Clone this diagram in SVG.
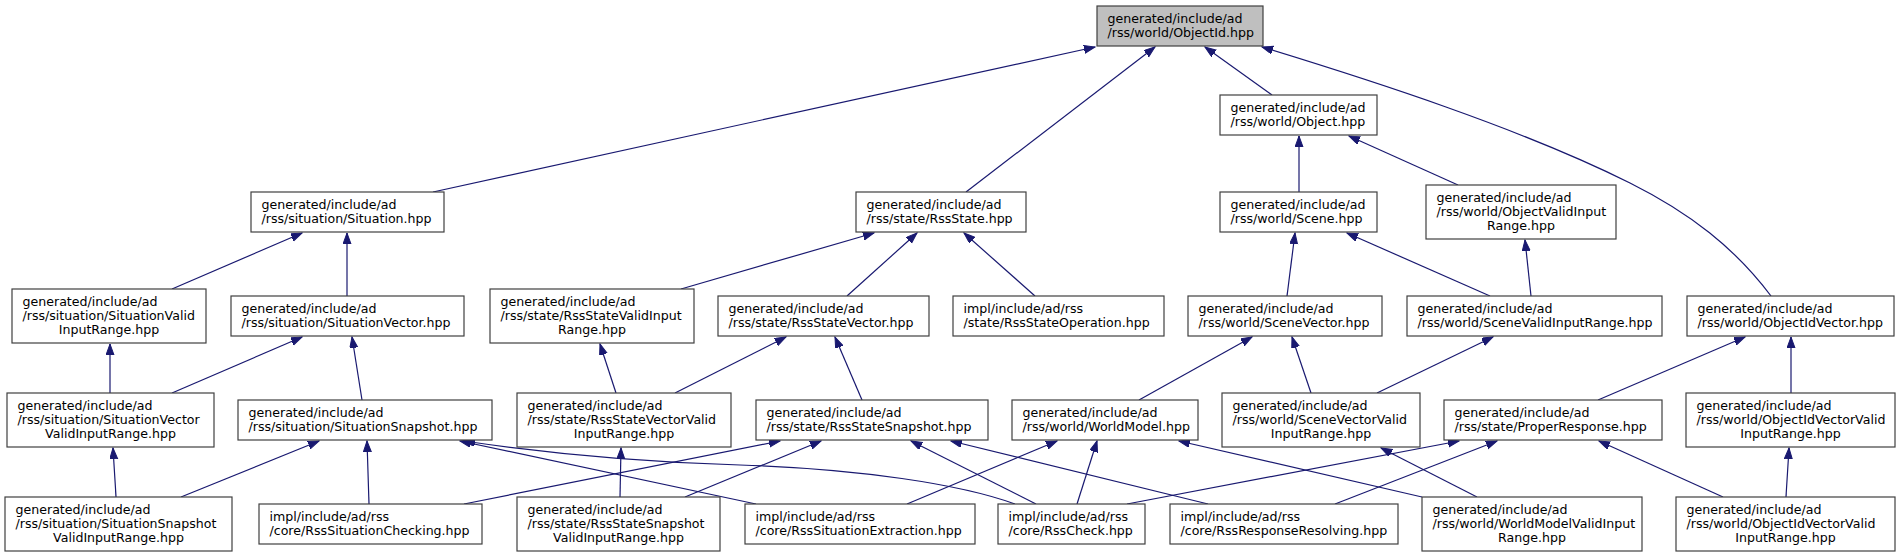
<svg xmlns="http://www.w3.org/2000/svg" width="1901" height="557" viewBox="0 0 1901 557">
<style>
.node rect{fill:#ffffff;stroke:#404040;stroke-width:1.2}
.node.root rect{fill:#bfbfbf}
.node text{font-family:"DejaVu Sans","Liberation Sans",sans-serif;font-size:12.6px;fill:#000000}
.node text.c{text-anchor:middle}
.edges path{fill:none;stroke:#191970;stroke-width:1.2;marker-end:url(#arr)}
</style>
<defs>
<marker id="arr" markerUnits="userSpaceOnUse" markerWidth="12" markerHeight="9" refX="11" refY="4" orient="auto">
<path d="M0,0 L11,4 L0,8 z" fill="#191970" stroke="#191970" stroke-width="1"/>
</marker>
</defs>
<rect x="0" y="0" width="1901" height="557" fill="#ffffff"/>
<g class="edges">
<path d="M433,192 L1095,47"/>
<path d="M966,192 L1155,47"/>
<path d="M1272,95 L1205,47"/>
<path d="M1771,296 C1735,248 1690,213 1630,183 C1520,128 1370,80 1262,47"/>
<path d="M1299,192 L1299,136"/>
<path d="M1458,185 L1349,136"/>
<path d="M172,289 L302,233"/>
<path d="M347,296 L347,233"/>
<path d="M681,289 L874,233"/>
<path d="M847,296 L917,233"/>
<path d="M1035,296 L964,233"/>
<path d="M1287,296 L1295,233"/>
<path d="M1490,296 L1347,233"/>
<path d="M1531,296 L1525,240"/>
<path d="M110,393 L110,344"/>
<path d="M172,393 L302,337"/>
<path d="M362,400 L352,337"/>
<path d="M616,393 L600,344"/>
<path d="M675,393 L786,337"/>
<path d="M862,400 L835,337"/>
<path d="M1139,400 L1252,337"/>
<path d="M1311,393 L1292,337"/>
<path d="M1377,393 L1493,337"/>
<path d="M1598,400 L1745,337"/>
<path d="M1791,393 L1791,337"/>
<path d="M116,497 L113,448"/>
<path d="M181,497 L319,441"/>
<path d="M369,504 L367,441"/>
<path d="M756,504 L460,441"/>
<path d="M1015,504 C960,484 860,469 740,465 C640,462 545,453 464,441"/>
<path d="M620,497 L621,448"/>
<path d="M464,504 L780,441"/>
<path d="M685,497 L821,441"/>
<path d="M1036,504 L911,441"/>
<path d="M1208,504 L951,441"/>
<path d="M907,504 L1057,441"/>
<path d="M1077,504 L1097,441"/>
<path d="M1422,497 L1179,441"/>
<path d="M1127,504 L1459,441"/>
<path d="M1335,504 L1497,441"/>
<path d="M1723,497 L1599,441"/>
<path d="M1477,497 L1381,448"/>
<path d="M1786,497 L1789,448"/>
</g>
<g id="n0" class="node root"><rect x="1097" y="6" width="166" height="40"/><text x="1107.5" y="22.5">generated/include/ad</text><text x="1107.5" y="36.5">/rss/world/ObjectId.hpp</text></g>
<g id="n1" class="node"><rect x="1220" y="95" width="157" height="40"/><text x="1230.5" y="111.5">generated/include/ad</text><text x="1230.5" y="125.5">/rss/world/Object.hpp</text></g>
<g id="n2" class="node"><rect x="251" y="192" width="193" height="40"/><text x="261.5" y="208.5">generated/include/ad</text><text x="261.5" y="222.5">/rss/situation/Situation.hpp</text></g>
<g id="n3" class="node"><rect x="856" y="192" width="170" height="40"/><text x="866.5" y="208.5">generated/include/ad</text><text x="866.5" y="222.5">/rss/state/RssState.hpp</text></g>
<g id="n4" class="node"><rect x="1220" y="192" width="157" height="40"/><text x="1230.5" y="208.5">generated/include/ad</text><text x="1230.5" y="222.5">/rss/world/Scene.hpp</text></g>
<g id="n5" class="node"><rect x="1426" y="185" width="190" height="54"/><text x="1436.5" y="201.5">generated/include/ad</text><text x="1436.5" y="215.5">/rss/world/ObjectValidInput</text><text class="c" x="1521" y="229.5">Range.hpp</text></g>
<g id="n6" class="node"><rect x="12" y="289" width="194" height="54"/><text x="22.5" y="305.5">generated/include/ad</text><text x="22.5" y="319.5">/rss/situation/SituationValid</text><text class="c" x="109" y="333.5">InputRange.hpp</text></g>
<g id="n7" class="node"><rect x="231" y="296" width="233" height="40"/><text x="241.5" y="312.5">generated/include/ad</text><text x="241.5" y="326.5">/rss/situation/SituationVector.hpp</text></g>
<g id="n8" class="node"><rect x="490" y="289" width="204" height="54"/><text x="500.5" y="305.5">generated/include/ad</text><text x="500.5" y="319.5">/rss/state/RssStateValidInput</text><text class="c" x="592" y="333.5">Range.hpp</text></g>
<g id="n9" class="node"><rect x="718" y="296" width="211" height="40"/><text x="728.5" y="312.5">generated/include/ad</text><text x="728.5" y="326.5">/rss/state/RssStateVector.hpp</text></g>
<g id="n10" class="node"><rect x="953" y="296" width="211" height="40"/><text x="963.5" y="312.5">impl/include/ad/rss</text><text x="963.5" y="326.5">/state/RssStateOperation.hpp</text></g>
<g id="n11" class="node"><rect x="1188" y="296" width="194" height="40"/><text x="1198.5" y="312.5">generated/include/ad</text><text x="1198.5" y="326.5">/rss/world/SceneVector.hpp</text></g>
<g id="n12" class="node"><rect x="1407" y="296" width="255" height="40"/><text x="1417.5" y="312.5">generated/include/ad</text><text x="1417.5" y="326.5">/rss/world/SceneValidInputRange.hpp</text></g>
<g id="n13" class="node"><rect x="1687" y="296" width="207" height="40"/><text x="1697.5" y="312.5">generated/include/ad</text><text x="1697.5" y="326.5">/rss/world/ObjectIdVector.hpp</text></g>
<g id="n14" class="node"><rect x="7" y="393" width="207" height="54"/><text x="17.5" y="409.5">generated/include/ad</text><text x="17.5" y="423.5">/rss/situation/SituationVector</text><text class="c" x="110.5" y="437.5">ValidInputRange.hpp</text></g>
<g id="n15" class="node"><rect x="238" y="400" width="254" height="40"/><text x="248.5" y="416.5">generated/include/ad</text><text x="248.5" y="430.5">/rss/situation/SituationSnapshot.hpp</text></g>
<g id="n16" class="node"><rect x="517" y="393" width="214" height="54"/><text x="527.5" y="409.5">generated/include/ad</text><text x="527.5" y="423.5">/rss/state/RssStateVectorValid</text><text class="c" x="624" y="437.5">InputRange.hpp</text></g>
<g id="n17" class="node"><rect x="756" y="400" width="232" height="40"/><text x="766.5" y="416.5">generated/include/ad</text><text x="766.5" y="430.5">/rss/state/RssStateSnapshot.hpp</text></g>
<g id="n18" class="node"><rect x="1012" y="400" width="186" height="40"/><text x="1022.5" y="416.5">generated/include/ad</text><text x="1022.5" y="430.5">/rss/world/WorldModel.hpp</text></g>
<g id="n19" class="node"><rect x="1222" y="393" width="198" height="54"/><text x="1232.5" y="409.5">generated/include/ad</text><text x="1232.5" y="423.5">/rss/world/SceneVectorValid</text><text class="c" x="1321" y="437.5">InputRange.hpp</text></g>
<g id="n20" class="node"><rect x="1444" y="400" width="218" height="40"/><text x="1454.5" y="416.5">generated/include/ad</text><text x="1454.5" y="430.5">/rss/state/ProperResponse.hpp</text></g>
<g id="n21" class="node"><rect x="1686" y="393" width="209" height="54"/><text x="1696.5" y="409.5">generated/include/ad</text><text x="1696.5" y="423.5">/rss/world/ObjectIdVectorValid</text><text class="c" x="1790.5" y="437.5">InputRange.hpp</text></g>
<g id="n22" class="node"><rect x="5" y="497" width="227" height="54"/><text x="15.5" y="513.5">generated/include/ad</text><text x="15.5" y="527.5">/rss/situation/SituationSnapshot</text><text class="c" x="118.5" y="541.5">ValidInputRange.hpp</text></g>
<g id="n23" class="node"><rect x="259" y="504" width="223" height="40"/><text x="269.5" y="520.5">impl/include/ad/rss</text><text x="269.5" y="534.5">/core/RssSituationChecking.hpp</text></g>
<g id="n24" class="node"><rect x="517" y="497" width="203" height="54"/><text x="527.5" y="513.5">generated/include/ad</text><text x="527.5" y="527.5">/rss/state/RssStateSnapshot</text><text class="c" x="618.5" y="541.5">ValidInputRange.hpp</text></g>
<g id="n25" class="node"><rect x="745" y="504" width="230" height="40"/><text x="755.5" y="520.5">impl/include/ad/rss</text><text x="755.5" y="534.5">/core/RssSituationExtraction.hpp</text></g>
<g id="n26" class="node"><rect x="998" y="504" width="147" height="40"/><text x="1008.5" y="520.5">impl/include/ad/rss</text><text x="1008.5" y="534.5">/core/RssCheck.hpp</text></g>
<g id="n27" class="node"><rect x="1170" y="504" width="228" height="40"/><text x="1180.5" y="520.5">impl/include/ad/rss</text><text x="1180.5" y="534.5">/core/RssResponseResolving.hpp</text></g>
<g id="n28" class="node"><rect x="1422" y="497" width="220" height="54"/><text x="1432.5" y="513.5">generated/include/ad</text><text x="1432.5" y="527.5">/rss/world/WorldModelValidInput</text><text class="c" x="1532" y="541.5">Range.hpp</text></g>
<g id="n29" class="node"><rect x="1676" y="497" width="219" height="54"/><text x="1686.5" y="513.5">generated/include/ad</text><text x="1686.5" y="527.5">/rss/world/ObjectIdVectorValid</text><text class="c" x="1785.5" y="541.5">InputRange.hpp</text></g>
</svg>
